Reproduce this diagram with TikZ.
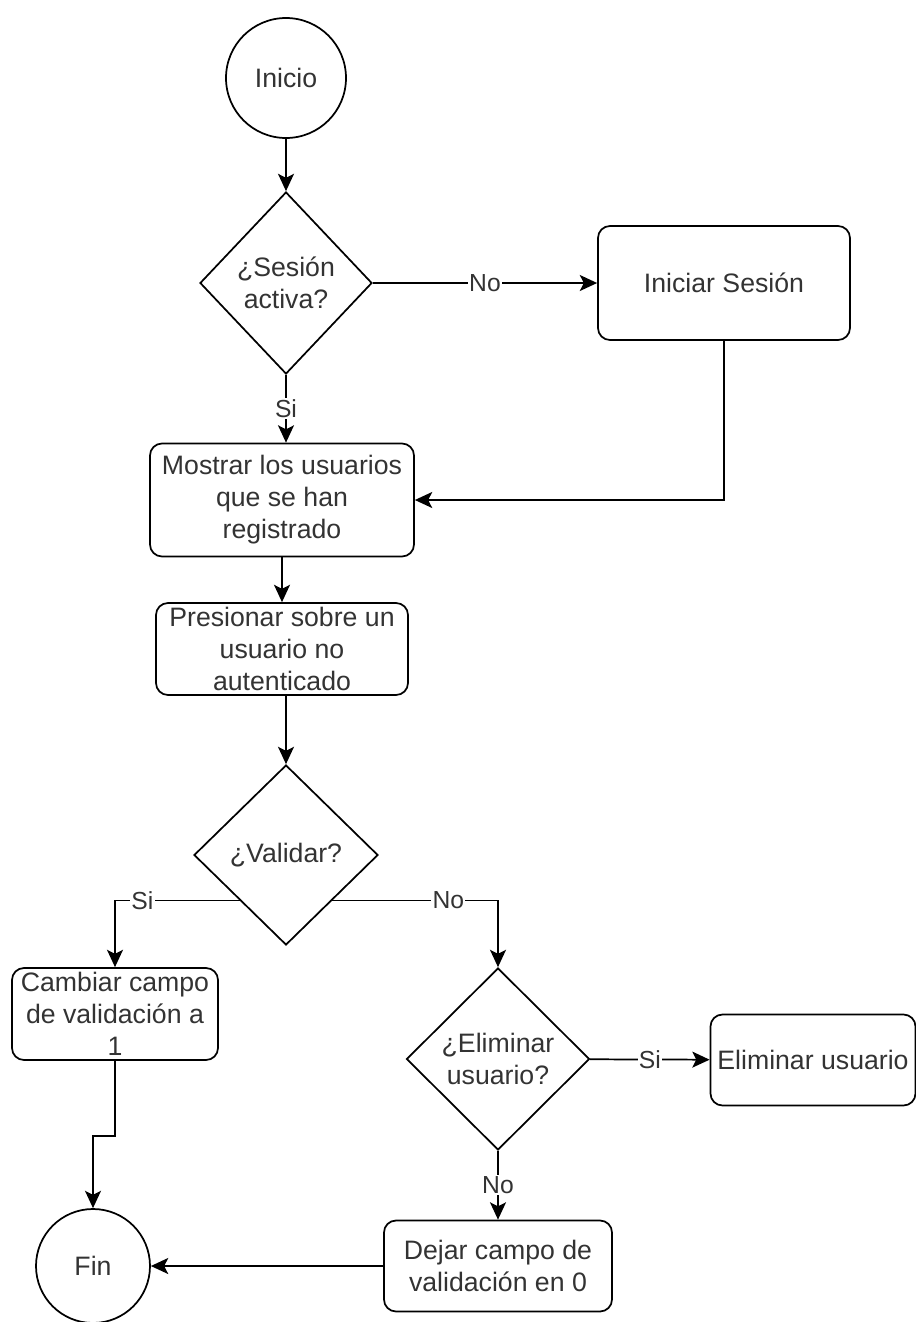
\documentclass[tikz,border=0pt]{standalone}
\usepackage{fontspec}
\setmainfont{Liberation Sans}
\usetikzlibrary{shapes.geometric,arrows.meta}
\definecolor{txt}{HTML}{333333}

\begin{document}
\begin{tikzpicture}[x=0.75pt,y=-0.75pt,
    every node/.style={font=\fontsize{20}{24}\selectfont, text=txt},
    proceso/.style={draw, line width=1.3pt, rounded corners=9pt, align=center, inner sep=0pt},
    decision/.style={draw, diamond, line width=1.3pt, align=center, inner sep=0pt},
    terminal/.style={draw, circle, line width=1.3pt, inner sep=0pt},
    flecha/.style={line width=1.3pt, -{Stealth[length=13pt,width=12pt,inset=3pt]}},
    etiqueta/.style={fill=white, inner sep=1pt, font=\fontsize{18.5}{20}\selectfont}]
            \useasboundingbox (0,0) rectangle (916,1322);
            \node[terminal, minimum size=90pt] (inicio) at (286,78) {Inicio};
            \node[decision, minimum width=129pt, minimum height=136.5pt] (sesion) at (286,283) {¿Sesión\\activa?};
            \node[proceso, minimum width=189pt, minimum height=85.5pt] (iniciar) at (724,283) {Iniciar Sesión};
            \node[proceso, minimum width=198pt, minimum height=84.75pt] (mostrar) at (282,500) {Mostrar los usuarios\\que se han\\registrado};
            \node[proceso, minimum width=189pt, minimum height=69pt] (presionar) at (282,649) {Presionar sobre un\\usuario no\\autenticado};
            \node[decision, minimum width=138pt, minimum height=135pt] (validar) at (286,855) {¿Validar?};
            \node[proceso, minimum width=154.5pt, minimum height=69pt] (cambiar) at (115,1014) {Cambiar campo\\de validación a\\1};
            \node[decision, minimum width=137.25pt, minimum height=136.5pt] (eliminarq) at (498,1059) {¿Eliminar\\usuario?};
            \node[proceso, minimum width=153.75pt, minimum height=68.25pt] (eliminar) at (813,1060) {Eliminar usuario};
            \node[proceso, minimum width=171pt, minimum height=68.25pt] (dejar) at (498,1266) {Dejar campo de\\validación en 0};
            \node[terminal, minimum size=85.5pt] (fin) at (93,1266) {Fin};
            \draw[flecha] (inicio) -- (sesion);
            \draw[flecha] (sesion) -- node[etiqueta]{No} (iniciar);
            \draw[flecha] (sesion.south) -- node[etiqueta]{Si} (sesion.south |- mostrar.north);
            \draw[flecha] (iniciar.south) |- (mostrar.east);
            \draw[flecha] (mostrar) -- (presionar);
            \draw[flecha] (validar.north |- presionar.south) -- (validar.north);
            \draw[flecha] (validar.south west) -| node[etiqueta, pos=0.39]{Si} (cambiar.north);
            \draw[flecha] (validar.south east) -| node[etiqueta, pos=0.35]{No} (eliminarq.north);
            \draw[flecha] (cambiar.south) -- ++(0,75) -| (fin.north);
            \draw[flecha] (eliminarq) -- node[etiqueta]{Si} (eliminar);
            \draw[flecha] (eliminarq) -- node[etiqueta]{No} (dejar);
            \draw[flecha] (dejar) -- (fin);
        \end{tikzpicture}
\end{document}
